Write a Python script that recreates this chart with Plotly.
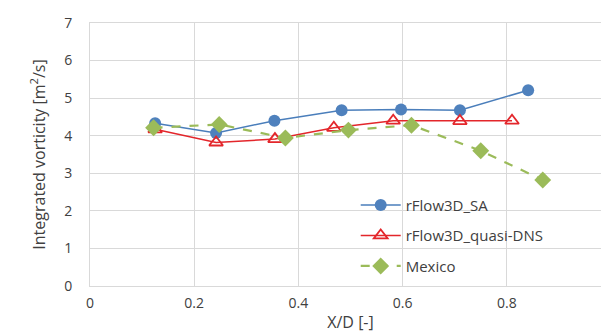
import plotly.graph_objects as go

sa_x = [0.125, 0.242, 0.354, 0.483, 0.597, 0.710, 0.841]
sa_y = [4.33, 4.07, 4.40, 4.68, 4.70, 4.68, 5.21]

dns_x = [0.125, 0.242, 0.355, 0.468, 0.582, 0.710, 0.810]
dns_y = [4.17, 3.82, 3.91, 4.21, 4.40, 4.39, 4.40]

mex_x = [0.122, 0.248, 0.375, 0.496, 0.617, 0.750, 0.869]
mex_y = [4.21, 4.30, 3.94, 4.15, 4.28, 3.60, 2.82]

x_ticks = [0, 0.2, 0.4, 0.6, 0.8, 1]
x_labels = ["0", "0.2", "0.4", "0.6", "0.8", "1"]
y_ticks = [0, 1, 2, 3, 4, 5, 6, 7]

fig = go.Figure()
fig.add_trace(go.Scatter(x=sa_x, y=sa_y, mode="lines+markers", name="rFlow3D_SA",
                         legendgroup="a",
                         line=dict(color="#4A7EBB", width=1.5),
                         marker=dict(symbol="circle", size=12, color="#4F81BD")))
fig.add_trace(go.Scatter(x=dns_x, y=dns_y, mode="lines+markers", name="rFlow3D_quasi-DNS",
                         legendgroup="b",
                         line=dict(color="#E3262B", width=1.5),
                         marker=dict(symbol="triangle-up-open", size=12, color="#E3262B",
                                     line=dict(width=1.8, color="#E3262B"))))
fig.add_trace(go.Scatter(x=mex_x, y=mex_y, mode="lines+markers", name="Mexico",
                         legendgroup="c",
                         line=dict(color="#9BBB59", width=2.2, dash="dash"),
                         marker=dict(symbol="diamond", size=13, color="#9BBB59")))

fig.update_layout(
    width=609, height=334,
    margin=dict(l=82, r=6, t=15, b=56),
    paper_bgcolor="white", plot_bgcolor="white",
    font=dict(family="Open Sans, Liberation Sans, sans-serif", color="#404040", size=14),
    legend=dict(x=0.51, y=0.37, xanchor="left", yanchor="top",
                bgcolor="rgba(0,0,0,0)", font=dict(size=15, color="#404040"),
                traceorder="grouped", tracegroupgap=8, itemwidth=40),
    showlegend=True,
)
fig.update_xaxes(range=[0, 1], tickvals=x_ticks, ticktext=x_labels, automargin=False,
                 showgrid=True, gridcolor="#D9D9D9", gridwidth=1,
                 zeroline=False, showline=True, linecolor="#D9D9D9", mirror=True,
                 ticks="", tickfont=dict(size=14, color="#404040"), ticklabelstandoff=4,
                 title=dict(text="X/D [-]", font=dict(size=16, color="#404040"), standoff=6))
fig.update_yaxes(range=[0, 7], tickvals=y_ticks, automargin=False,
                 showgrid=True, gridcolor="#D9D9D9", gridwidth=1,
                 zeroline=False, showline=True, linecolor="#D9D9D9", mirror=True,
                 ticks="", tickfont=dict(size=14, color="#404040"), ticklabelstandoff=14,
                 title=dict(text="Integrated vorticity [m<sup>2</sup>/s]",
                            font=dict(size=16, color="#404040"), standoff=14))

fig.write_html("out.html")
